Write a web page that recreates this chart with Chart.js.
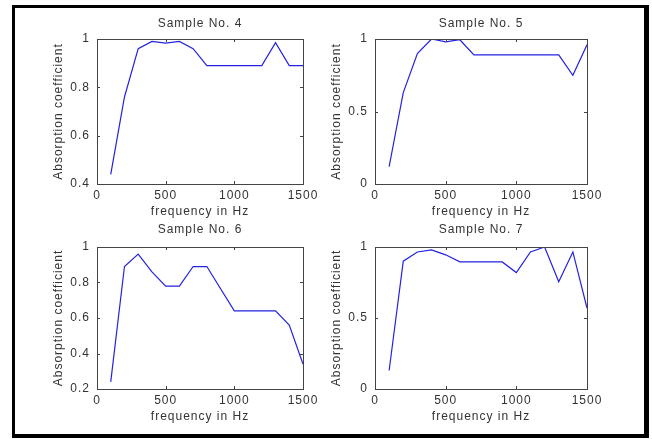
<!DOCTYPE html>
<html>
<head>
<meta charset="utf-8">
<script src="https://cdn.jsdelivr.net/npm/chart.js@4/dist/chart.umd.min.js"></script>
<style>
  html, body { margin: 0; padding: 0; background: #fff; }
  body { width: 652px; height: 439px; position: relative; overflow: hidden; }
  .frame {
    position: absolute; left: 12px; top: 5px; width: 637px; height: 433px;
    box-sizing: border-box; border: 3px solid #000; border-right-width: 5px; border-bottom-width: 4px;
  }
  canvas { position: absolute; }
</style>
</head>
<body>
<div class="frame"></div>
<canvas id="s4"></canvas>
<canvas id="s5"></canvas>
<canvas id="s6"></canvas>
<canvas id="s7"></canvas>
<script>
// ── Data ────────────────────────────────────────────────────────────────────
const freqHz  = [100, 200, 300, 400, 500, 600, 700, 800, 900, 1000, 1100, 1200, 1300, 1400, 1500];
const sample4 = [0.44, 0.76, 0.96, 0.99, 0.983, 0.99, 0.96, 0.89, 0.89, 0.89, 0.89, 0.89, 0.985, 0.89, 0.89];
const sample5 = [0.12, 0.63, 0.9, 1.0, 0.98, 0.995, 0.89, 0.89, 0.89, 0.89, 0.89, 0.89, 0.89, 0.75, 0.96];
const sample6 = [0.24, 0.89, 0.96, 0.86, 0.78, 0.78, 0.89, 0.89, 0.765, 0.64, 0.64, 0.64, 0.64, 0.56, 0.34];
const sample7 = [0.13, 0.9, 0.965, 0.98, 0.945, 0.895, 0.895, 0.895, 0.895, 0.82, 0.965, 1.0, 0.755, 0.965, 0.57];

const xRange     = [0, 1500];
const xStep      = 500;
const yRange4    = [0.4, 1];
const yRange5    = [0, 1];
const yRange6    = [0.2, 1];
const yRange7    = [0, 1];
const yStepFine  = 0.2;
const yStepHalf  = 0.5;

// ── Style ───────────────────────────────────────────────────────────────────
const TEXT = '#333';
const AXIS = '#444';
const LINE = 'rgb(35,35,225)';
const FONT = "Arial, 'Liberation Sans', Helvetica, sans-serif";

Chart.defaults.font.family = FONT;
Chart.defaults.font.size = 12;
Chart.defaults.color = TEXT;

const PAD_L = 50, PAD_R = 50, PAD_T = 30, PAD_B = 40;

// MATLAB's figure font is set a little wider than Arial
const wideText = {
  id: 'wideText',
  beforeLayout(chart) { chart.ctx.letterSpacing = '1px'; },
  beforeDraw(chart)   { chart.ctx.letterSpacing = '1px'; },
};

// Box + inward tick marks on all four sides
const boxTicks = {
  id: 'boxTicks',
  afterDraw(chart) {
    const { ctx, chartArea: a, scales } = chart;
    const len = 3;
    ctx.save();
    ctx.strokeStyle = AXIS;
    ctx.lineWidth = 1;
    ctx.beginPath();
    scales.x.ticks.forEach(t => {
      const px = Math.round(scales.x.getPixelForValue(t.value)) + 0.5;
      ctx.moveTo(px, a.bottom); ctx.lineTo(px, a.bottom - len);
      ctx.moveTo(px, a.top);    ctx.lineTo(px, a.top + len);
    });
    scales.y.ticks.forEach(t => {
      const py = Math.round(scales.y.getPixelForValue(t.value)) + 0.5;
      ctx.moveTo(a.left, py);  ctx.lineTo(a.left + len, py);
      ctx.moveTo(a.right, py); ctx.lineTo(a.right - len, py);
    });
    ctx.stroke();
    ctx.strokeRect(Math.round(a.left) + 0.5, Math.round(a.top) + 0.5,
                   Math.round(a.right - a.left), Math.round(a.bottom - a.top));
    ctx.restore();
  }
};

function makePlot(id, box, title, values, yRange, yStep, titleTop) {
  const canvas = document.getElementById(id);
  const w = box.w + PAD_L + PAD_R, h = box.h + PAD_T + PAD_B;
  canvas.width = w; canvas.height = h;
  canvas.style.left = (box.l - PAD_L) + 'px';
  canvas.style.top  = (box.t - PAD_T) + 'px';
  canvas.style.width = w + 'px'; canvas.style.height = h + 'px';

  return new Chart(canvas, {
    type: 'line',
    data: {
      datasets: [{
        data: freqHz.map((f, i) => ({ x: f, y: values[i] })),
        borderColor: LINE,
        borderWidth: 1.2,
        pointRadius: 0,
        tension: 0,
        fill: false,
      }],
    },
    options: {
      responsive: false,
      animation: false,
      events: [],
      layout: { padding: 0 },
      plugins: {
        legend: { display: false },
        tooltip: { enabled: false },
        title: {
          display: true,
          text: title,
          color: TEXT,
          font: { size: 12, lineHeight: 1.2, weight: 'normal' },
          padding: { top: titleTop, bottom: PAD_T - 14.4 - titleTop },
        },
      },
      scales: {
        x: {
          type: 'linear',
          min: xRange[0], max: xRange[1],
          grid: { display: false, drawTicks: false },
          border: { display: false },
          ticks: { stepSize: xStep, padding: 4, color: TEXT, maxRotation: 0, callback: v => String(v) },
          title: { display: true, text: 'frequency in Hz', color: TEXT, padding: { top: 0, bottom: 5 } },
          afterFit: s => { s.height = PAD_B; },
        },
        y: {
          min: yRange[0], max: yRange[1],
          grid: { display: false, drawTicks: false },
          border: { display: false },
          ticks: {
            stepSize: yStep, padding: 7, color: TEXT,
            callback: v => String(+v.toFixed(2)),
          },
          title: { display: true, text: 'Absorption coefficient', color: TEXT, padding: { top: 4, bottom: 0 } },
          afterFit: s => { s.width = PAD_L; },
        },
        // empty right-hand axis so the title centres over the plot box
        yRight: {
          position: 'right',
          min: yRange[0], max: yRange[1],
          grid: { display: false, drawTicks: false },
          border: { display: false },
          ticks: { display: false },
          afterFit: s => { s.width = PAD_R; },
        },
      },
    },
    plugins: [wideText, boxTicks],
  });
}

makePlot('s4', { l: 97,  t: 39,  w: 206, h: 145 }, 'Sample No. 4', sample4, yRange4, yStepFine, 7);
makePlot('s5', { l: 375, t: 39,  w: 212, h: 145 }, 'Sample No. 5', sample5, yRange5, yStepHalf, 7);
makePlot('s6', { l: 97,  t: 247, w: 206, h: 142 }, 'Sample No. 6', sample6, yRange6, yStepFine, 5);
makePlot('s7', { l: 375, t: 247, w: 212, h: 142 }, 'Sample No. 7', sample7, yRange7, yStepHalf, 5);
</script>
</body>
</html>
